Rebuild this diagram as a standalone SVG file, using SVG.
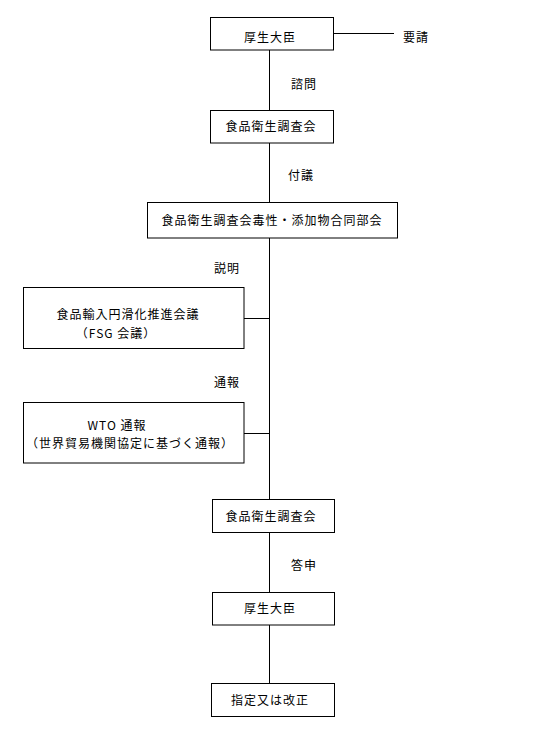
<svg xmlns="http://www.w3.org/2000/svg" width="540" height="734" viewBox="0 0 540 734">
<style>
.box{fill:#fff;stroke:#000;stroke-width:1}
.ln{stroke:#000;stroke-width:1;fill:none}
text{font-family:"Noto Sans CJK JP","Noto Sans",sans-serif;font-size:12px;fill:#000;letter-spacing:1px}
.c{text-anchor:middle}
</style>
<rect width="540" height="734" fill="#fff"/>
<g id="connectors">
<line class="ln" x1="269.5" y1="50" x2="269.5" y2="110"/>
<line class="ln" x1="334" y1="33.5" x2="394" y2="33.5"/>
<line class="ln" x1="269.5" y1="143" x2="269.5" y2="202"/>
<line class="ln" x1="269.5" y1="238" x2="269.5" y2="499"/>
<line class="ln" x1="244" y1="318.5" x2="269.5" y2="318.5"/>
<line class="ln" x1="244" y1="433.5" x2="269.5" y2="433.5"/>
<line class="ln" x1="269.5" y1="533" x2="269.5" y2="592"/>
<line class="ln" x1="269.5" y1="625" x2="269.5" y2="683"/>
<text x="403" y="42">要請</text>
<text x="291" y="89">諮問</text>
<text x="288" y="180">付議</text>
<text x="214" y="273">説明</text>
<text x="214" y="387">通報</text>
<text x="291" y="570">答申</text>
</g>
<g id="n1"><rect class="box" x="210.5" y="17.5" width="123" height="32.5"/><text class="c" x="270" y="42">厚生大臣</text></g>
<g id="n2"><rect class="box" x="210.5" y="110.5" width="123" height="32.5"/><text class="c" x="271" y="131">食品衛生調査会</text></g>
<g id="n3"><rect class="box" x="147.5" y="202.5" width="250" height="35.5"/><text class="c" x="272" y="225">食品衛生調査会毒性・添加物合同部会</text></g>
<g id="n4"><rect class="box" x="23.5" y="287.5" width="220.5" height="61"/><text class="c" x="128" y="319">食品輸入円滑化推進会議</text><text class="c" x="116" y="338">（FSG 会議）</text></g>
<g id="n5"><rect class="box" x="23.5" y="402.5" width="220.5" height="60.5"/><text class="c" x="117" y="430">WTO 通報</text><text class="c" x="130" y="448">（世界貿易機関協定に基づく通報）</text></g>
<g id="n6"><rect class="box" x="212.5" y="499.5" width="122" height="33"/><text class="c" x="271" y="521">食品衛生調査会</text></g>
<g id="n7"><rect class="box" x="212.5" y="592.5" width="122" height="32.5"/><text class="c" x="270" y="613">厚生大臣</text></g>
<g id="n8"><rect class="box" x="211.5" y="683.5" width="123" height="33"/><text class="c" x="270" y="705">指定又は改正</text></g>
</svg>
